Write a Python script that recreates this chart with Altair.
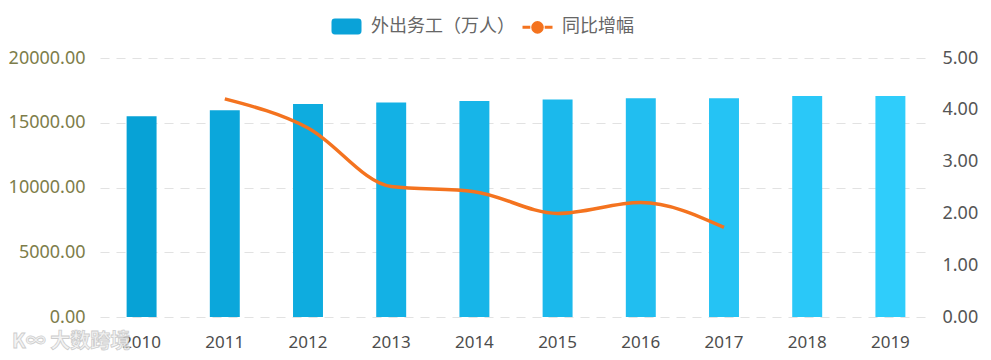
import altair as alt
import pandas as pd

# ---- data ----
years = ["2010", "2011", "2012", "2013", "2014", "2015", "2016", "2017", "2018", "2019"]
workers = [15500, 15970, 16440, 16570, 16670, 16800, 16900, 16900, 17060, 17060]
growth_years = ["2011", "2012", "2013", "2014", "2015", "2016", "2017"]
growth = [4.21, 3.65, 2.52, 2.42, 2.00, 2.21, 1.73]
bar_name = "外出务工（万人）"
line_name = "同比增幅"
watermark = ["K∞ 大数跨境"]

# ---- styles ----
bar_colors = ["#07A2D6", "#0BA7DB", "#0EACDF", "#13B1E5", "#17B5E8",
              "#1BB9EC", "#21BEF0", "#25C3F4", "#2AC8F8", "#2FCDFB"]
line_color = "#F4731F"
font = "Noto Sans"
cjk = "Noto Sans CJK SC"

bars_df = pd.DataFrame({"year": years, "workers": workers})
line_df = pd.DataFrame({"year": growth_years, "growth": growth})
legend_df = pd.DataFrame({"series": [bar_name, line_name]})
wm_df = pd.DataFrame({"t": watermark})

x_enc = alt.X("year:N", sort=years,
              scale=alt.Scale(domain=years, paddingInner=0.64, paddingOuter=0.32),
              axis=alt.Axis(title=None, labelAngle=0, domain=False, ticks=False,
                            labelFontSize=17, labelColor="#4d4d4d", labelFont=font,
                            labelPadding=17, grid=False))

bars = alt.Chart(bars_df).mark_bar().encode(
    x=x_enc,
    y=alt.Y("workers:Q",
            scale=alt.Scale(domain=[0, 20000], nice=False, zero=True),
            axis=alt.Axis(title=None, values=[0, 5000, 10000, 15000, 20000], format=".2f",
                          domain=False, ticks=False, labelFontSize=18, labelColor="#7d7d4a",
                          labelFont=font, labelPadding=15, grid=True, gridColor="#e2e2e2",
                          gridDash=[9, 7], gridWidth=1.2, orient="left")),
    color=alt.Color("year:N", sort=years,
                    scale=alt.Scale(domain=years, range=bar_colors), legend=None),
)

line = alt.Chart(line_df).mark_line(color=line_color, strokeWidth=3.5,
                                     interpolate="monotone").encode(
    x=alt.X("year:N", sort=years),
    y=alt.Y("growth:Q",
            scale=alt.Scale(domain=[0, 5], nice=False),
            axis=alt.Axis(title=None, values=[0, 1, 2, 3, 4, 5], format=".2f",
                          domain=False, ticks=False, labelFontSize=18, labelColor="#555555",
                          labelFont=font, labelPadding=10, grid=False, orient="right")),
)

rect_path = ("M-0.9,-0.3 Q-0.9,-0.43 -0.77,-0.43 H0.77 Q0.9,-0.43 0.9,-0.3 V0.3 "
             "Q0.9,0.43 0.77,0.43 H-0.77 Q-0.9,0.43 -0.9,0.3 Z")
line_path = ("M-1,0H-0.48M0.48,0H1M0.32,0A0.32,0.32,0,1,1,-0.32,0"
             "A0.32,0.32,0,1,1,0.32,0Z")
leg_scale_c = alt.Scale(domain=[bar_name, line_name], range=["#0AA2D8", line_color])
legend_layer = alt.Chart(legend_df).mark_point(strokeWidth=3, filled=True).encode(
    fill=alt.Fill("series:N", scale=leg_scale_c, title=None,
                  legend=alt.Legend(title=None)),
    stroke=alt.Stroke("series:N", scale=leg_scale_c, title=None,
                      legend=alt.Legend(title=None)),
    shape=alt.Shape("series:N",
                    scale=alt.Scale(domain=[bar_name, line_name], range=[rect_path, line_path]),
                    title=None, legend=alt.Legend(title=None)),
).transform_filter("false")

wm = alt.Chart(wm_df).mark_text(font=cjk, fontSize=20, fontWeight="bold", align="left",
                                baseline="middle", fill="#f2f2f2", stroke="#c4c4c4",
                                strokeWidth=0.8, opacity=0.85).encode(
    text="t:N", x=alt.value(-88), y=alt.value(284))

chart = alt.layer(bars, line, legend_layer, wm).resolve_scale(
    y="independent"
).properties(
    width=832, height=259,
    autosize=alt.AutoSizeParams(type="none"),
    padding={"left": 92, "top": 50, "right": 51, "bottom": 35},
).configure_view(stroke=None).configure_legend(
    orient="none", legendX=230, legendY=-48, direction="horizontal",
    labelFontSize=18, labelColor="#666666", labelFont=cjk,
    symbolSize=900, symbolStrokeWidth=3, symbolOpacity=1,
    labelOffset=8, columnPadding=1, padding=0, labelLimit=300,
)

chart.save("out.html", embed_options={"renderer": "svg", "actions": False})
